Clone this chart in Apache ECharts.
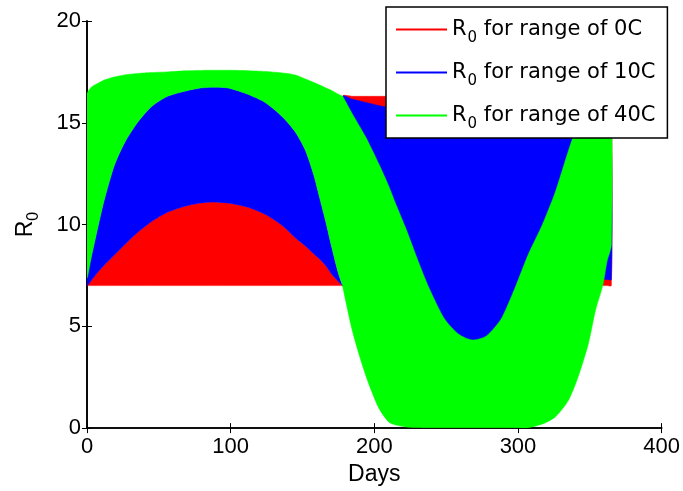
<!DOCTYPE html>
<html><head><meta charset="utf-8">
<script src="https://cdn.jsdelivr.net/npm/echarts@6/dist/echarts.min.js"></script>
<style>html,body{margin:0;padding:0;background:#fff}#c{width:683px;height:491px}</style>
</head><body><div id="c"></div>
<script>
// Day samples (178 appears twice: the curves jump there)
const days = [0,3,8,12,19,26,35,45,56,68,78,85,90,99,112,124,136,145,152,158,162,166,170,175,178,
              178,185,194,203,210,215,222,230,238,249,259,268,277,284,289,298,307,317,326,335,342,349,354,359,362,365];

// R0 for range of 0C : band lower / upper
const redLower = [7,7,7,7,7,7,7,7,7,7,7,7,7,7,7,7,7,7,7,7,7,7,7,7,7,
                  7,7,7,7,7,7,7,7,7,7,7,7,7,7,7,7,7,7,7,7,7,7,7,7,7,7];
const redUpper = [7.0,7.25,7.7,8.0,8.5,9.0,9.6,10.15,10.6,10.9,11.05,11.1,11.1,11.05,10.85,10.5,9.95,9.35,8.95,8.55,8.3,8.0,7.6,7.2,7.0,
                  16.3,16.3,16.3,16.3,16.3,16.3,16.3,16.3,16.3,16.3,16.3,16.3,16.3,16.3,16.3,16.3,16.3,16.3,16.3,16.3,16.3,16.3,16.3,16.3,16.3,16.3];

// R0 for range of 10C
const blueLower = [7.0,7.25,7.7,8.0,8.5,9.0,9.6,10.15,10.6,10.9,11.05,11.1,11.1,11.05,10.85,10.5,9.95,9.35,8.95,8.55,8.3,8.0,7.6,7.2,7.0,
                   7.3,5.6,4.2,4.0,4.0,4.0,4.0,4.0,4.0,4.0,4.0,4.0,4.0,4.0,4.0,4.0,4.0,4.0,4.0,4.0,4.5,6.0,7.0,7.3,7.3,7.3];
const blueUpper = [7.4,8.4,10.0,11.2,12.9,14.0,15.0,15.8,16.3,16.55,16.7,16.74,16.75,16.7,16.4,16.0,15.3,14.55,13.65,12.4,11.3,10.2,9.0,7.6,7.05,
                   16.3,16.15,16.0,15.85,15.75,15.7,15.6,15.5,15.4,15.3,15.2,15.1,15.0,14.9,14.9,14.8,14.7,14.6,14.5,14.4,14.3,14.2,14.1,14.0,13.9,13.8];

// R0 for range of 40C
const greenLower = [7.4,8.4,10.0,11.2,12.9,14.0,15.0,15.8,16.3,16.55,16.7,16.74,16.75,16.7,16.4,16.0,15.3,14.55,13.65,12.4,11.3,10.2,9.0,7.6,7.0,
                    6.95,4.7,2.6,1.0,0.3,0.15,0.06,0.03,0.02,0.02,0.02,0.02,0.02,0.02,0.02,0.02,0.02,0.2,0.55,1.35,2.55,4.15,5.8,7.0,8.2,9.0];
const greenUpper = [16.4,16.75,16.95,17.1,17.25,17.35,17.42,17.47,17.5,17.55,17.57,17.58,17.58,17.58,17.56,17.52,17.45,17.35,17.15,16.98,16.85,16.72,16.6,16.4,16.3,
                    16.3,15.4,14.3,13.0,11.9,11.0,9.8,8.3,6.9,5.35,4.6,4.33,4.48,4.96,5.45,6.9,8.5,10.0,11.6,13.6,15.0,15.9,16.2,16.35,16.4,16.4];

const xTicks = [0,100,200,300,400];
const yTicks = [0,5,10,15,20];
const seriesNames = ['R0 for range of 0C','R0 for range of 10C','R0 for range of 40C'];
const seriesColors = ['#ff0000','#0000ff','#00ff00'];
const legendSuffix = [' for range of 0C',' for range of 10C',' for range of 40C'];

const FONT = 'Liberation Sans';
const LFONT = 'DejaVu Sans';
const bands = [[redLower, redUpper],[blueLower, blueUpper],[greenLower, greenUpper]];

const series = bands.map(function (b, i) {
  const lower = b[0], upper = b[1];
  return {
    name: seriesNames[i], type: 'custom', coordinateSystem: 'cartesian2d',
    color: seriesColors[i],
    itemStyle: {color: seriesColors[i]},
    clip: true,
    encode: {x: 0, y: [1, 2]},
    data: days.map(function (d, k) { return [d, lower[k], upper[k]]; }),
    renderItem: function (params, api) {
      if (params.dataIndex !== 0) return null;
      const pts = [];
      for (let k = 0; k < days.length; k++) pts.push(api.coord([days[k], upper[k]]));
      for (let k = days.length - 1; k >= 0; k--) pts.push(api.coord([days[k], lower[k]]));
      return {type: 'polygon', shape: {points: pts, smooth: 0.25},
              style: {fill: seriesColors[i], stroke: seriesColors[i], lineWidth: 0.5}};
    }
  };
});

const chart = echarts.init(document.getElementById('c'));
const axisLine = {show: true, lineStyle: {color: '#000', width: 1.6}};
chart.setOption({
  animation: false,
  backgroundColor: '#fff',
  grid: {left: 87, right: 20, top: 21, bottom: 59, containLabel: false},
  xAxis: [{
    type: 'value', min: 0, max: 400, interval: 100, position: 'bottom',
    axisLine: axisLine, splitLine: {show: false},
    axisTick: {show: true, inside: true, length: 5, lineStyle: {color: '#000', width: 1}},
    axisLabel: {fontFamily: FONT, fontSize: 22, color: '#000', margin: 8},
    name: 'Days', nameLocation: 'middle', nameGap: 34,
    nameTextStyle: {fontFamily: FONT, fontSize: 23, color: '#000'}
  }, {
    type: 'value', min: 0, max: 400, interval: 100, position: 'top',
    axisLine: axisLine, splitLine: {show: false},
    axisTick: {show: true, inside: true, length: 5, lineStyle: {color: '#000', width: 1}},
    axisLabel: {show: false}
  }],
  yAxis: [{
    type: 'value', min: 0, max: 20, interval: 5, position: 'left',
    axisLine: axisLine, splitLine: {show: false},
    axisTick: {show: true, inside: true, length: 5, lineStyle: {color: '#000', width: 1}},
    axisLabel: {fontFamily: FONT, fontSize: 22, color: '#000', margin: 6},
    name: '{r|R}{s|0}', nameLocation: 'middle', nameGap: 45, nameRotate: 90,
    nameTextStyle: {fontFamily: FONT, fontSize: 23, color: '#000',
      rich: {r: {fontFamily: FONT, fontSize: 23, color: '#000'},
             s: {fontFamily: FONT, fontSize: 16, color: '#000', padding: [16, 0, 0, 0]}}}
  }, {
    type: 'value', min: 0, max: 20, interval: 5, position: 'right',
    axisLine: axisLine, splitLine: {show: false},
    axisTick: {show: true, inside: true, length: 5, lineStyle: {color: '#000', width: 1}},
    axisLabel: {show: false}
  }],
  legend: {
    data: seriesNames, orient: 'vertical', left: 386, top: 7,
    backgroundColor: '#fff', borderColor: '#000', borderWidth: 1.5, borderRadius: 0,
    padding: [1, 12, 1, 10], itemGap: 0, itemWidth: 51, itemHeight: 2, icon: 'rect',
    selectedMode: false,
    formatter: function (name) { return '{r|R}{s|0}{t|' + legendSuffix[seriesNames.indexOf(name)] + '}'; },
    textStyle: {fontFamily: LFONT, fontSize: 21, color: '#000', lineHeight: 43,
      rich: {r: {fontFamily: LFONT, fontSize: 21, color: '#000', lineHeight: 43},
             s: {fontFamily: LFONT, fontSize: 15, color: '#000', padding: [17, 0, 0, 1], lineHeight: 15},
             t: {fontFamily: LFONT, fontSize: 21, color: '#000', lineHeight: 43}}}
  },
  series: series
});
</script></body></html>
